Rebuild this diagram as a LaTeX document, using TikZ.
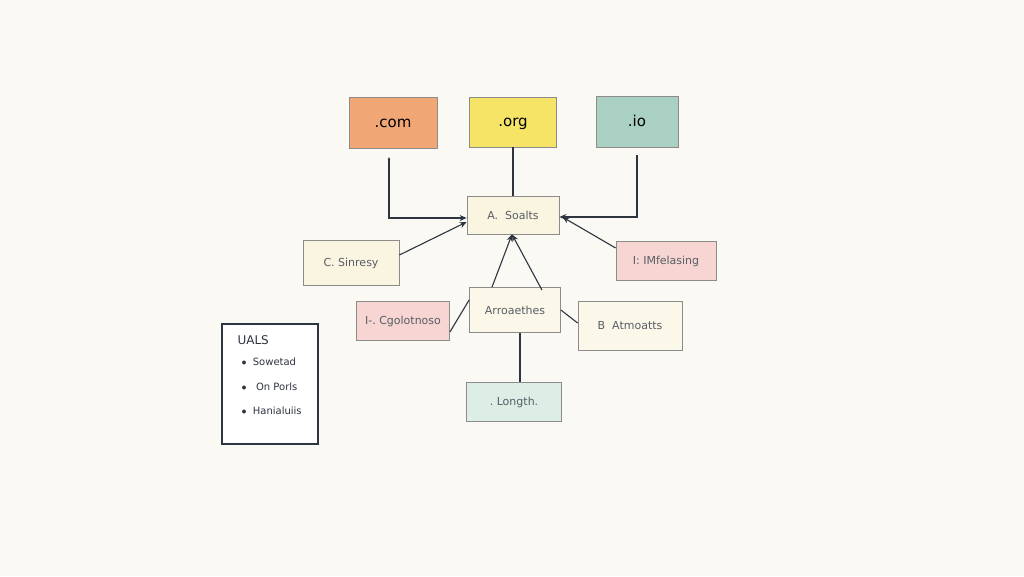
\documentclass[tikz,border=0pt]{standalone}
\usepackage{fontspec}
\setmainfont{DejaVu Sans}
\usetikzlibrary{arrows.meta,positioning}
\definecolor{bg}{HTML}{FBF9F4}
\definecolor{comc}{HTML}{F1A676}
\definecolor{orgc}{HTML}{F5E466}
\definecolor{ioc}{HTML}{A9D0C2}
\definecolor{creamc}{HTML}{FAF5E0}
\definecolor{pinkc}{HTML}{F6D5D2}
\definecolor{tealc}{HTML}{DCEEE6}
\definecolor{edgec}{HTML}{8C8C8C}
\definecolor{inkc}{HTML}{2E3440}
\tikzset{
  box/.style={draw=edgec, line width=0.8pt, minimum height=#1, inner sep=0pt, font=\fontsize{11}{13}\selectfont, text=inkc!80},
  box/.default=40pt,
  topbox/.style={draw=edgec, line width=0.8pt, minimum width=86pt, minimum height=51pt, inner sep=0pt, text height=11pt, text depth=3pt, font=\fontsize{15}{17}\selectfont, text=black},
  link/.style={draw=inkc, line width=1.1pt},
  arr/.style={link, -{Stealth[length=7pt,width=6pt]}},
}
\begin{document}
\begin{tikzpicture}[x=1pt,y=-1pt]
\fill[bg] (0,0) rectangle (1024,576);
\useasboundingbox (0,0) rectangle (1024,576);

% top boxes
\node[topbox, fill=comc, minimum width=88pt] (com) at (393,123) {.com};
\node[topbox, fill=orgc, minimum width=87pt, minimum height=50pt] (org) at (513,122) {.org};
\node[topbox, fill=ioc, minimum width=82pt] (io) at (637,122) {.io};

% middle
\node[box=38pt, fill=creamc, minimum width=92pt] (A) at (513,215) {A.\ \ Soalts};
\node[box=45pt, fill=creamc, minimum width=96pt] (C) at (351,263) {C.\ Sinresy};
\node[box=39pt, fill=pinkc, minimum width=100pt] (I) at (666,261) {I:\ IMfelasing};
\node[box=45pt, fill=creamc!70!white, minimum width=91pt] (R) at (515,310) {Arroaethes};
\node[box=39pt, fill=pinkc, minimum width=93pt] (G) at (403,321) {I-.\ Cgolotnoso};
\node[box=49pt, fill=creamc!70!white, minimum width=104pt] (B) at (630,326) {B\ \ Atmoatts};
\node[box=39pt, fill=tealc, minimum width=95pt] (L) at (514,402) {.\ Longth.};

% legend
\node[draw=inkc, line width=1.1pt, fill=white, minimum width=96pt, minimum height=120pt, inner sep=0pt] (U) at (270,384) {};
\node[anchor=west, font=\fontsize{12}{14}\selectfont, text=inkc] (Ut) at (234,340) {UALS};
\node[anchor=west, font=\fontsize{10}{12}\selectfont, text=inkc] (U1) at (238,362) {$\bullet$\ \ Sowetad};
\node[anchor=west, font=\fontsize{10}{12}\selectfont, text=inkc] (U2) at (238,387) {$\bullet$\ \ \ On Porls};
\node[anchor=west, font=\fontsize{10}{12}\selectfont, text=inkc] (U3) at (238,411) {$\bullet$\ \ Hanialuiis};

% connectors
\coordinate (comd) at (389,157);
\coordinate (iod) at (637,155);
\draw[arr, {Stealth[length=3pt,width=2.5pt]}-{Stealth[length=7pt,width=6pt]}] (comd) |- ([yshift=-3pt]A.west);
\draw[link] (org.south) -- (A.north);
\draw[arr] (iod) |- ([yshift=-2pt]A.east);
\draw[arr] ([yshift=8pt]C.east) -- ([yshift=-7pt]A.west);
\draw[arr] ([yshift=13pt]I.west) -- ([xshift=3pt,yshift=-2pt]A.east);
\draw[arr] ([xshift=-23pt]R.north) -- ([xshift=-1pt]A.south);
\draw[arr] ([xshift=27pt,yshift=-3pt]R.north) -- ([xshift=-1pt]A.south);
\draw[link] ([yshift=10pt]R.west) -- ([yshift=-11pt]G.east);
\draw[link] ([yshift=0pt]R.east) -- ([yshift=3pt]B.west);
\draw[link] ([xshift=5pt]R.south) -- ([xshift=6pt]L.north);
\end{tikzpicture}
\end{document}
